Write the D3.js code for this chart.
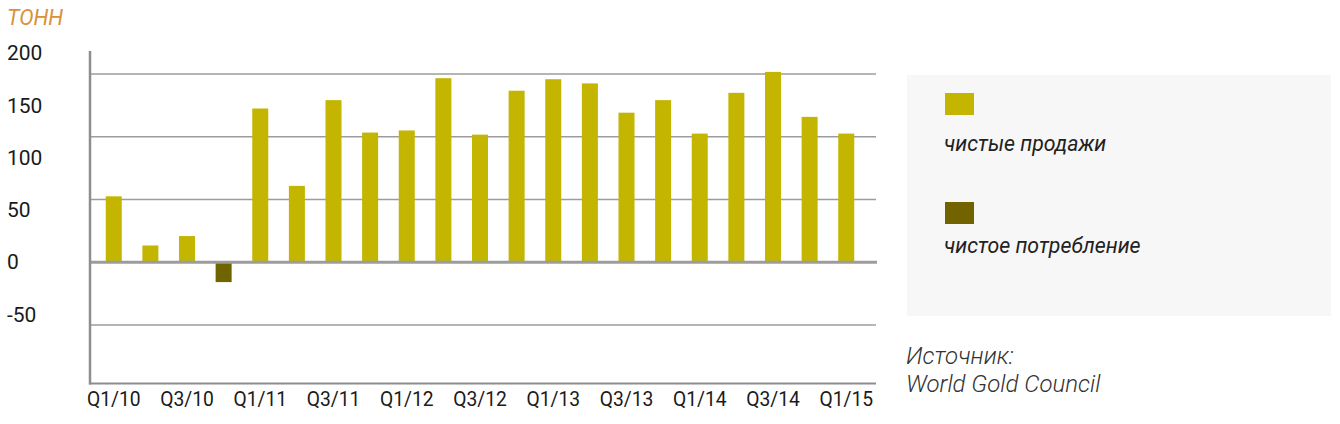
<!DOCTYPE html>
<html>
<head>
<meta charset="utf-8">
<script src="https://cdn.jsdelivr.net/npm/d3@7"></script>
<style>
  html, body { margin: 0; padding: 0; background: #ffffff; }
  svg { display: block; font-family: Roboto, "Noto Sans", sans-serif; }
</style>
</head>
<body>
<svg id="chart" width="1340" height="424"></svg>
<script>
// ---- data ----
const quarters = ["Q1/10","Q2/10","Q3/10","Q4/10","Q1/11","Q2/11","Q3/11","Q4/11",
                  "Q1/12","Q2/12","Q3/12","Q4/12","Q1/13","Q2/13","Q3/13","Q4/13",
                  "Q1/14","Q2/14","Q3/14","Q4/14","Q1/15"];
const netSales = [63, 16, 25, null, 147, 73, 155, 124, 126, 176, 122, 164, 175, 171, 143, 155, 123, 162, 182, 139, 123];
const netConsumption = [null, null, null, -19, null, null, null, null, null, null, null, null, null, null, null, null, null, null, null, null, null];
const tickValues = [200, 150, 100, 50, 0, -50];
const gridValues = [180, 120, 60, -60];
const xTickLabels = ["Q1/10","Q3/10","Q1/11","Q3/11","Q1/12","Q3/12","Q1/13","Q3/13","Q1/14","Q3/14","Q1/15"];
const unitLabel = "ТОНН";
const seriesNames = ["чистые продажи", "чистое потребление"];
const sourceLines = ["Источник:", "World Gold Council"];

// ---- styles ----
const colSales = "#c3b500";
const colCons = "#716400";
const gridCol = "#9c9c9c";

const svg = d3.select("#chart");

const x = d3.scaleBand().domain(quarters).range([90, 870]).paddingInner(0.563).paddingOuter(0.43);
const y = d3.scaleLinear().domain([-116, 202]).range([383.5, 51]);

// gridlines
svg.append("g").selectAll("line").data(gridValues).join("line")
  .attr("x1", 90).attr("x2", 876)
  .attr("y1", d => y(d)).attr("y2", d => y(d))
  .attr("stroke", gridCol).attr("stroke-width", 1.6);

// bars
const bars = svg.append("g");
bars.selectAll("rect.sales").data(quarters.map((q, i) => ({q, v: netSales[i]})).filter(d => d.v != null))
  .join("rect").attr("class", "sales")
  .attr("x", d => x(d.q)).attr("width", x.bandwidth())
  .attr("y", d => y(Math.max(0, d.v))).attr("height", d => Math.abs(y(d.v) - y(0)))
  .attr("fill", colSales);
bars.selectAll("rect.cons").data(quarters.map((q, i) => ({q, v: netConsumption[i]})).filter(d => d.v != null))
  .join("rect").attr("class", "cons")
  .attr("x", d => x(d.q)).attr("width", x.bandwidth())
  .attr("y", d => y(Math.max(0, d.v))).attr("height", d => Math.abs(y(d.v) - y(0)))
  .attr("fill", colCons);

// zero line
svg.append("line").attr("x1", 90).attr("x2", 877).attr("y1", y(0)).attr("y2", y(0))
  .attr("stroke", gridCol).attr("stroke-width", 3);

// axes frame lines
svg.append("line").attr("x1", 90).attr("x2", 90).attr("y1", y(202)).attr("y2", y(-116) + 1)
  .attr("stroke", "#8e8e8e").attr("stroke-width", 2.5);
svg.append("line").attr("x1", 89).attr("x2", 876).attr("y1", y(-116)).attr("y2", y(-116))
  .attr("stroke", "#8e8e8e").attr("stroke-width", 2);

// y axis labels (left aligned)
const yAxis = d3.axisLeft(y).tickValues(tickValues).tickSize(0).tickPadding(0).tickFormat(d => String(d));
const gy = svg.append("g").attr("transform", "translate(7,0)").call(yAxis);
gy.select(".domain").remove();
gy.selectAll("text").attr("text-anchor", "start").attr("x", 0)
  .attr("font-family", "Roboto").attr("font-size", 21).attr("fill", "#1a1a1a");

// x axis labels
const xAxis = d3.axisBottom(x).tickValues(xTickLabels).tickSize(0).tickPadding(0);
const gx = svg.append("g").attr("transform", "translate(0,393)").call(xAxis);
gx.select(".domain").remove();
gx.selectAll("text").attr("dy", 0).attr("y", 13)
  .attr("font-family", "Roboto").attr("font-size", 19.3).attr("fill", "#1a1a1a");

// unit label
svg.append("text").attr("x", 7).attr("y", 25).text(unitLabel)
  .attr("font-family", "Roboto").attr("font-style", "italic").attr("font-size", 21.5)
  .attr("fill", "#d8933a");

// legend box
svg.append("rect").attr("x", 907).attr("y", 75).attr("width", 424).attr("height", 241)
  .attr("fill", "#f7f7f7");
const legendItems = [
  {name: seriesNames[0], color: colSales, sy: 93, ty: 151},
  {name: seriesNames[1], color: colCons, sy: 202, ty: 253}
];
const lg = svg.append("g");
lg.selectAll("rect").data(legendItems).join("rect")
  .attr("x", 945).attr("y", d => d.sy).attr("width", 29).attr("height", 22).attr("fill", d => d.color);
lg.selectAll("text").data(legendItems).join("text")
  .attr("x", 944).attr("y", d => d.ty).text(d => d.name)
  .attr("font-family", "Roboto").attr("font-style", "italic").attr("font-size", 21.3).attr("fill", "#222");

// source
svg.append("g").selectAll("text").data(sourceLines).join("text")
  .attr("x", 906).attr("y", (d, i) => 364 + i * 28).text(d => d)
  .attr("font-family", "Roboto").attr("font-style", "italic").attr("font-weight", 300)
  .attr("font-size", 24).attr("fill", "#333");
</script>
</body>
</html>
